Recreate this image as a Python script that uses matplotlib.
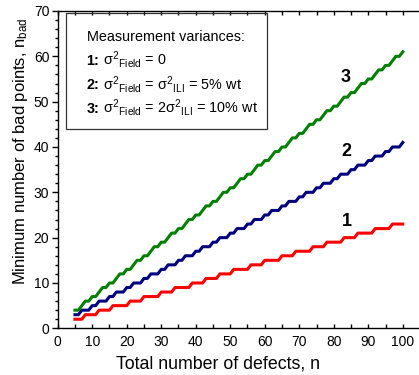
import matplotlib
matplotlib.use('Agg')
import matplotlib.pyplot as plt
from matplotlib.patches import Rectangle
from matplotlib.ticker import MultipleLocator

plt.rcParams['font.family'] = ['Liberation Sans', 'DejaVu Sans']
plt.rcParams['mathtext.fontset'] = 'custom'
plt.rcParams['mathtext.rm'] = 'Liberation Sans'
plt.rcParams['mathtext.it'] = 'Liberation Sans'
plt.rcParams['mathtext.bf'] = 'Liberation Sans:bold'
plt.rcParams['mathtext.sf'] = 'Liberation Sans'

# total number of defects, n = 5 .. 100
n_defects = list(range(5, 101))

# curve 1: sigma^2_Field = 0
bad_1 = [2, 2, 2, 3, 3, 3, 3, 4, 4, 4,
         4, 5, 5, 5, 5, 5, 6, 6, 6, 6,
         7, 7, 7, 7, 7, 8, 8, 8, 8, 9,
         9, 9, 9, 9, 10, 10, 10, 10, 11, 11,
         11, 11, 12, 12, 12, 12, 13, 13, 13, 13,
         13, 14, 14, 14, 14, 15, 15, 15, 15, 15,
         16, 16, 16, 16, 17, 17, 17, 17, 17, 18,
         18, 18, 18, 19, 19, 19, 19, 19, 20, 20,
         20, 20, 21, 21, 21, 21, 21, 22, 22, 22,
         22, 22, 23, 23, 23, 23]

# curve 2: sigma^2_Field = sigma^2_ILI = 5% wt
bad_2 = [3, 3, 4, 4, 4, 5, 5, 6, 6, 6,
         7, 7, 8, 8, 8, 9, 9, 10, 10, 10,
         11, 11, 12, 12, 12, 13, 13, 14, 14, 14,
         15, 15, 16, 16, 16, 17, 17, 18, 18, 18,
         19, 19, 20, 20, 20, 21, 21, 22, 22, 22,
         23, 23, 24, 24, 24, 25, 25, 26, 26, 26,
         27, 27, 28, 28, 28, 29, 29, 30, 30, 30,
         31, 31, 32, 32, 32, 33, 33, 34, 34, 34,
         35, 35, 36, 36, 36, 37, 37, 38, 38, 38,
         39, 39, 40, 40, 40, 41]

# curve 3: sigma^2_Field = 2 sigma^2_ILI = 10% wt
bad_3 = [4, 4, 5, 6, 6, 7, 7, 8, 9, 9,
         10, 10, 11, 12, 12, 13, 13, 14, 15, 15,
         16, 16, 17, 18, 18, 19, 19, 20, 21, 21,
         22, 22, 23, 24, 24, 25, 25, 26, 27, 27,
         28, 28, 29, 30, 30, 31, 31, 32, 33, 33,
         34, 34, 35, 36, 36, 37, 37, 38, 39, 39,
         40, 40, 41, 42, 42, 43, 43, 44, 45, 45,
         46, 46, 47, 48, 48, 49, 49, 50, 51, 51,
         52, 52, 53, 54, 54, 55, 55, 56, 57, 57,
         58, 58, 59, 60, 60, 61]

fig = plt.figure(figsize=(4.19, 3.75), dpi=100)
ax = fig.add_axes([57.7 / 419, 1 - 328.3 / 375, 361.3 / 419, 317.3 / 375])

ax.plot(n_defects, bad_1, color='#ff0000', lw=2.2)
ax.plot(n_defects, bad_2, color='#000080', lw=2.2)
ax.plot(n_defects, bad_3, color='#008000', lw=2.2)

ax.text(83.3, 55.3, '3', fontsize=13, fontweight='bold', ha='center', va='center')
ax.text(83.6, 39.0, '2', fontsize=13, fontweight='bold', ha='center', va='center')
ax.text(83.9, 23.5, '1', fontsize=13, fontweight='bold', ha='center', va='center')

# legend-like box with the variance notes
ax.add_patch(Rectangle((0.023, 0.628), 0.556, 0.366, transform=ax.transAxes,
                       fill=False, edgecolor='#333333', lw=0.9, zorder=5))
tx = 0.080
tx2 = 0.126
fs = 10.4
sig_f = r'$\sigma^{2}{}_{\mathrm{Field}}$'
sig_i = r'$\sigma^{2}{}_{\mathrm{ILI}}$'
ax.text(tx, 0.906, 'Measurement variances:', transform=ax.transAxes, fontsize=fs)
rows = [(0.830, '1:', sig_f + ' = 0'),
        (0.753, '2:', sig_f + ' = ' + sig_i + ' = 5% wt'),
        (0.680, '3:', sig_f + ' = 2' + sig_i + ' = 10% wt')]
for y, num, rest in rows:
    ax.text(tx, y, num, transform=ax.transAxes, fontsize=fs, fontweight='bold')
    ax.text(tx2, y, rest, transform=ax.transAxes, fontsize=fs)

ax.set_xlim(0, 104.7)
ax.set_ylim(0, 70)
ax.xaxis.set_major_locator(MultipleLocator(10))
ax.xaxis.set_minor_locator(MultipleLocator(5))
ax.yaxis.set_major_locator(MultipleLocator(10))
ax.yaxis.set_minor_locator(MultipleLocator(2))

ax.spines['right'].set_visible(False)
for s in ['left', 'top', 'bottom']:
    ax.spines[s].set_linewidth(1.0)

ax.tick_params(axis='x', which='both', direction='in', top=True, bottom=True,
               length=3, width=1, labelsize=10, pad=5)
ax.tick_params(axis='y', which='major', direction='out', length=4, width=1,
               labelsize=10, pad=2)
ax.tick_params(axis='y', which='minor', direction='out', length=2.5, width=1)

ax.set_xlabel('Total number of defects, n', fontsize=12.8)
ax.xaxis.set_label_coords(0.444, -0.085)
ax.set_ylabel(r'Minimum number of bad points, n$_{\mathrm{bad}}$', fontsize=12)
ax.yaxis.set_label_coords(-0.077, 0.559)

fig.savefig('out.png', dpi=100)
